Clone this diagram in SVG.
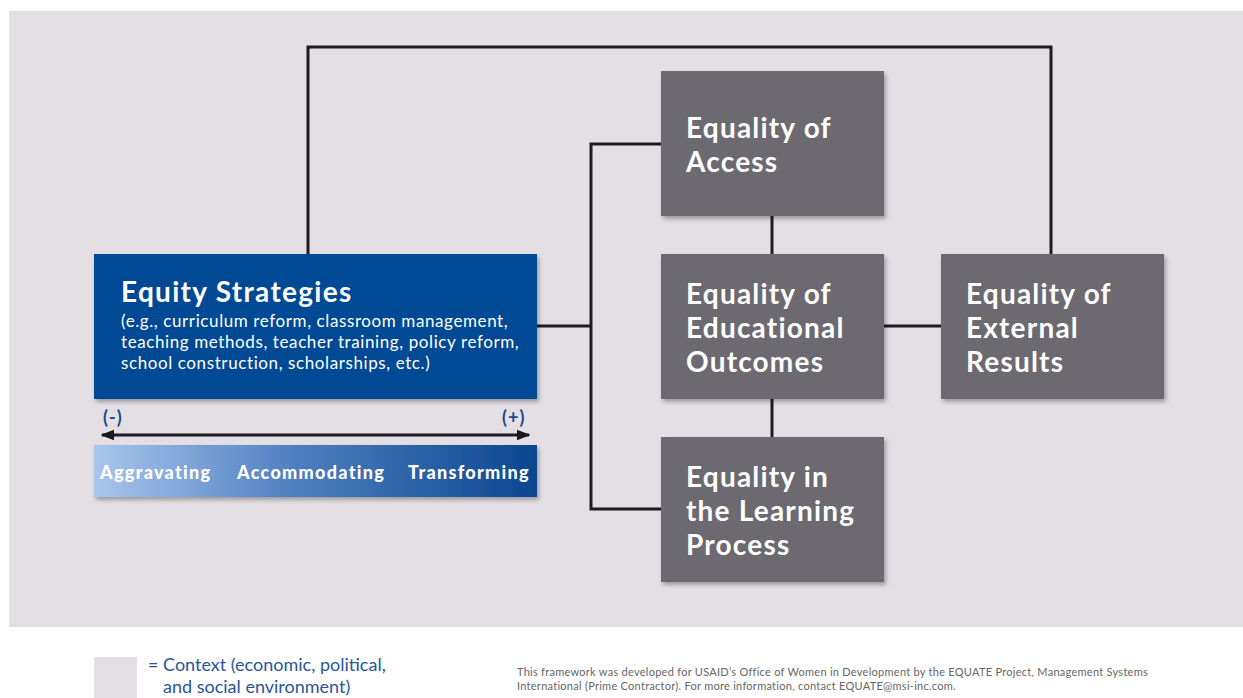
<svg xmlns="http://www.w3.org/2000/svg" width="1243" height="698" viewBox="0 0 1243 698">
<defs>
<linearGradient id="grad" x1="0" y1="0" x2="1" y2="0">
<stop offset="0" stop-color="#a9c6ec"/>
<stop offset="0.45" stop-color="#4f7fc0"/>
<stop offset="1" stop-color="#0b4690"/>
</linearGradient>
<filter id="sh" x="-5%" y="-5%" width="115%" height="120%">
<feDropShadow dx="2" dy="3" stdDeviation="2" flood-color="#000" flood-opacity="0.3"/>
</filter>
<marker id="ah" viewBox="0 0 10 10" refX="9" refY="5" markerWidth="4.5" markerHeight="4.5" orient="auto-start-reverse">
<path d="M0,1 L10,5 L0,9 z" fill="#1a1a1a"/>
</marker>
<style>
.gbox{fill:#6c6a6f;filter:url(#sh)}
.gt{font-family:Lato,"Open Sans",sans-serif;font-weight:bold;font-size:28px;letter-spacing:1.2px;fill:#fff}
.ln{stroke:#1e1c22;stroke-width:3;fill:none}
.sub{font-family:Lato,"Open Sans",sans-serif;font-size:17px;letter-spacing:0.6px;fill:#fff}
.bt{font-family:Lato,"Open Sans",sans-serif;font-weight:900;font-size:18px;letter-spacing:1.3px;fill:#fff}
.pm{font-family:Lato,"Open Sans",sans-serif;font-weight:bold;font-size:18px;letter-spacing:1px;fill:#1a4a8e}
.foot{font-family:Lato,"Open Sans",sans-serif;font-size:11px;letter-spacing:0.27px;fill:#666}
.ctx{font-family:Lato,"Open Sans",sans-serif;font-size:18px;fill:#2a5698}
</style>
</defs>
<rect x="0" y="0" width="1243" height="698" fill="#fff"/>
<rect x="9" y="11" width="1234" height="616" fill="#e3dfe5"/>
<g id="connectors">
<polyline class="ln" points="308,254 308,47 1051,47 1051,254"/>
<polyline class="ln" points="537,326 591,326"/>
<polyline class="ln" points="661,144 591,144 591,509 661,509"/>
<line class="ln" x1="772" y1="216" x2="772" y2="254"/>
<line class="ln" x1="772" y1="399" x2="772" y2="437"/>
<line class="ln" x1="884" y1="326" x2="941" y2="326"/>
<line class="ln" x1="102" y1="435" x2="529" y2="435" marker-start="url(#ah)" marker-end="url(#ah)"/>
</g>
<g id="equity">
<rect x="94" y="254" width="443" height="145" fill="#064a94" filter="url(#sh)"/>
<text x="121" y="302" font-family="Lato,'Open Sans',sans-serif" font-weight="bold" font-size="28" letter-spacing="1.3" fill="#fff">Equity Strategies</text>
<text class="sub" x="121" y="327">(e.g., curriculum reform, classroom management,</text>
<text class="sub" x="121" y="348">teaching methods, teacher training, policy reform,</text>
<text class="sub" x="121" y="369">school construction, scholarships, etc.)</text>
</g>
<g id="scale">
<text class="pm" x="103" y="424">(-)</text>
<text class="pm" x="502" y="424">(+)</text>
<rect x="94" y="445" width="443" height="52" fill="url(#grad)" filter="url(#sh)"/>
<text class="bt" x="100" y="479">Aggravating</text>
<text class="bt" x="237" y="479">Accommodating</text>
<text class="bt" x="408" y="479">Transforming</text>
</g>
<g id="access">
<rect class="gbox" x="661" y="71" width="223" height="145"/>
<text class="gt" x="686" y="138">Equality of</text>
<text class="gt" x="686" y="172">Access</text>
</g>
<g id="outcomes">
<rect class="gbox" x="661" y="254" width="223" height="145"/>
<text class="gt" x="686" y="304">Equality of</text>
<text class="gt" x="686" y="338">Educational</text>
<text class="gt" x="686" y="372">Outcomes</text>
</g>
<g id="learning">
<rect class="gbox" x="661" y="437" width="223" height="145"/>
<text class="gt" x="686" y="487">Equality in</text>
<text class="gt" x="686" y="521">the Learning</text>
<text class="gt" x="686" y="555">Process</text>
</g>
<g id="external">
<rect class="gbox" x="941" y="254" width="223" height="145"/>
<text class="gt" x="966" y="304">Equality of</text>
<text class="gt" x="966" y="338">External</text>
<text class="gt" x="966" y="372">Results</text>
</g>
<g id="legend">
<rect x="94" y="657" width="43" height="41" fill="#e3dfe5"/>
<text class="ctx" x="148" y="671">= Context (economic, political,</text>
<text class="ctx" x="163" y="693">and social environment)</text>
<text class="foot" x="517" y="676">This framework was developed for USAID’s Office of Women in Development by the EQUATE Project, Management Systems</text>
<text class="foot" x="517" y="690">International (Prime Contractor). For more information, contact EQUATE@msi-inc.com.</text>
</g>
</svg>
